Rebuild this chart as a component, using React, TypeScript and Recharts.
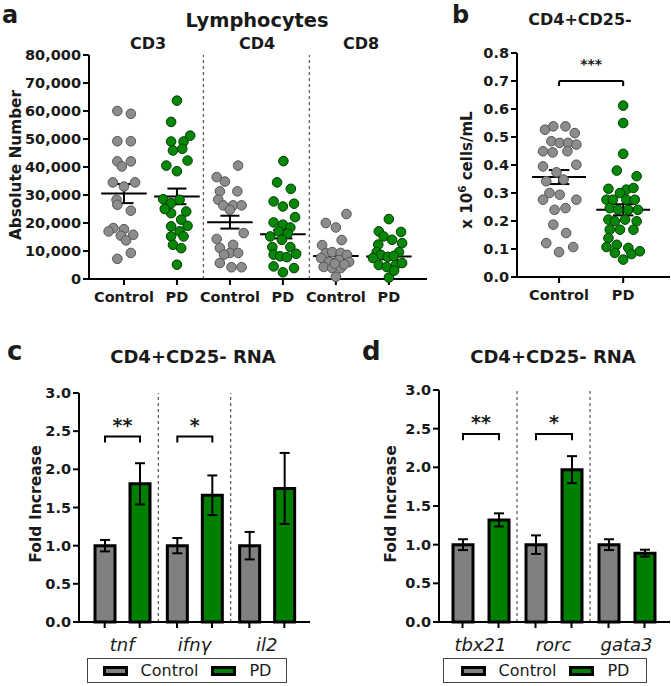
import React from 'react';
import {
  ScatterChart, Scatter, XAxis, YAxis, ReferenceLine,
  BarChart, Bar, ErrorBar, LabelList,
} from 'recharts';

const FONT = '"DejaVu Sans", "Liberation Sans", Arial, sans-serif';
const INK = '#1a1a1a';
const GRAY_PT = '#8c8c8c';
const GRAY_PT_EDGE = '#555555';
const GREEN_PT = '#078707';
const GREEN_PT_EDGE = '#003c00';
const GRAY_BAR = '#808080';
const GREEN_BAR = '#008000';

// ---------------- Panel a : Lymphocytes ----------------
const aGroupNames = ['CD3', 'CD4', 'CD8'];
const aTickLabels = ['Control', 'PD', 'Control', 'PD', 'Control', 'PD'];
const aYTicks = [0, 10000, 20000, 30000, 40000, 50000, 60000, 70000, 80000];
// [horizontal jitter within column, value]
const cd3Control: [number, number][] = [
  [-0.125, 60000], [0.13, 59000], [-0.125, 49200], [0.13, 49200], [-0.125, 42000], [0.13, 42000],
  [-0.04, 40200], [-0.21, 34500], [0.21, 34500], [0, 33000], [-0.14, 28300], [-0.125, 26500],
  [0.13, 24400], [-0.2, 18200], [0, 17800], [-0.29, 17000], [-0.06, 15500], [0.175, 15800],
  [0.04, 13800], [0.13, 9300], [-0.125, 7200],
];
const cd3PD: [number, number][] = [
  [0, 63700], [-0.11, 56100], [-0.11, 49100], [0.125, 49100], [0.25, 51200], [0.1, 46500],
  [-0.075, 45900], [0.2, 42300], [-0.2, 40500], [0, 38500], [-0.26, 28500], [-0.11, 27100],
  [0.05, 28300], [-0.11, 23500], [0.175, 24100], [-0.23, 25000], [0.08, 21200], [-0.11, 18800],
  [0.2, 19000], [0.05, 17000], [-0.11, 15200], [0.125, 15200], [-0.075, 12200], [0.08, 11000],
  [0, 5100],
];
const cd4Control: [number, number][] = [
  [0.155, 40500], [-0.25, 36400], [-0.095, 34800], [-0.19, 31300], [0.14, 31300], [-0.22, 28300],
  [-0.125, 26300], [0.06, 26300], [0.22, 26300], [0, 24700], [0.26, 16400], [-0.25, 14300],
  [-0.19, 11100], [0.06, 12200], [0, 9300], [0.155, 9300], [-0.11, 8700], [-0.19, 5700],
  [0.03, 4200], [0.22, 4200],
];
const cd4PD: [number, number][] = [
  [0.01, 42100], [-0.11, 34500], [0.15, 32200], [-0.175, 27700], [0.21, 26900], [0, 25900],
  [0.23, 22100], [-0.175, 20200], [0, 19400], [0.14, 18400], [-0.08, 17000], [-0.24, 15200],
  [0.09, 16200], [-0.02, 14000], [-0.2, 11400], [0.14, 11400], [0.25, 9000], [-0.175, 8700],
  [-0.05, 8100], [0.075, 7800], [-0.175, 4500], [0.21, 3900], [0, 2400],
];
const cd8Control: [number, number][] = [
  [0.2, 23200], [-0.19, 20000], [0, 18400], [0.11, 13900], [-0.26, 12100], [-0.19, 9300],
  [-0.07, 9600], [0.09, 9300], [0.21, 8600], [-0.28, 7500], [-0.13, 6100], [0.06, 6800],
  [0.25, 6100], [-0.23, 4300], [-0.07, 3900], [0.09, 3900], [0, 800], [0.16, 5200], [-0.02, 5500],
];
const cd8PD: [number, number][] = [
  [0, 21400], [-0.19, 17000], [0.23, 16800], [-0.1, 15200], [0.06, 14000], [-0.2, 12300],
  [0.25, 12800], [-0.23, 9600], [0.19, 9600], [-0.15, 8600], [-0.02, 7900], [0.09, 8200],
  [-0.3, 7500], [-0.19, 5000], [-0.04, 4300], [0.13, 5000], [0.25, 5700], [0, 500], [0.1, 3000],
];
const aControlGroups = [cd3Control, cd4Control, cd8Control];
const aPDGroups = [cd3PD, cd4PD, cd8PD];
const aMeans = [30500, 29500, 20300, 16000, 8200, 8000];
const aSems = [3400, 2800, 2300, 1500, 1000, 1000];

// ---------------- Panel b : CD4+CD25- ----------------
const bTickLabels = ['Control', 'PD'];
const bYTicks = [0, 0.1, 0.2, 0.3, 0.4, 0.5, 0.6, 0.7, 0.8];
const bControl: [number, number][] = [
  [-0.09, 0.538], [0.1, 0.538], [-0.22, 0.526], [0.245, 0.514], [-0.12, 0.485], [0.01, 0.479],
  [0.14, 0.479], [0.27, 0.473], [-0.25, 0.449], [-0.1, 0.445], [0.13, 0.449], [-0.25, 0.395],
  [0.27, 0.401], [-0.04, 0.374], [0.07, 0.348], [-0.2, 0.342], [-0.15, 0.3], [-0.25, 0.276],
  [0.01, 0.294], [0.27, 0.276], [-0.07, 0.24], [0.1, 0.246], [-0.09, 0.187], [0.11, 0.157],
  [-0.2, 0.121], [0, 0.089], [0.22, 0.107],
];
const bPD: [number, number][] = [
  [0, 0.612], [0, 0.55], [0, 0.44], [-0.1, 0.38], [0.21, 0.36], [-0.23, 0.315], [0.05, 0.312],
  [0.16, 0.318], [-0.05, 0.3], [-0.26, 0.276], [-0.16, 0.276], [0.05, 0.276], [0.18, 0.276],
  [-0.21, 0.246], [-0.08, 0.24], [0.08, 0.24], [0.23, 0.24], [-0.23, 0.205], [-0.13, 0.199],
  [0.03, 0.205], [0.21, 0.199], [-0.05, 0.169], [0.16, 0.169], [-0.21, 0.169], [-0.23, 0.139],
  [-0.1, 0.115], [0.08, 0.104], [-0.26, 0.107], [-0.13, 0.086], [0.13, 0.082], [0.26, 0.092],
  [0, 0.062],
];
const bMeans = [0.357, 0.24];
const bSems = [0.025, 0.02];
const bSig = '***';
const bBracketLevel = 0.7;
const bBracketLeg = 0.682;

// ---------------- Panels c, d : CD4+CD25- RNA ----------------
const barYTicks = [0, 0.5, 1.0, 1.5, 2.0, 2.5, 3.0];
const cGenes = ['tnf', 'ifnγ', 'il2'];
const cControl = [1.0, 1.0, 1.0];
const cPD = [1.81, 1.66, 1.75];
const cControlSem = [0.075, 0.1, 0.18];
const cPDSem = [0.27, 0.26, 0.465];
const cSig = ['**', '*', ''];

const dGenes = ['tbx21', 'rorc', 'gata3'];
const dControl = [1.0, 1.0, 1.0];
const dPD = [1.32, 1.97, 0.89];
const dControlSem = [0.07, 0.12, 0.07];
const dPDSem = [0.085, 0.175, 0.045];
const dSig = ['**', '*', ''];

const bracketLevel = 2.43;
const bracketLeg = 2.35;
const starLevel = 2.56;

// ---------------- helpers ----------------
const tickStyle = { fill: INK, fontSize: 14.5, fontWeight: 700, fontFamily: FONT };
const axisLineStyle = { stroke: '#000', strokeWidth: 2 };

const toPoints = (groups: [number, number][][], offset: number) =>
  groups.flatMap((g, gi) => g.map(([dx, v]) => ({ x: gi * 2 + offset + dx, y: v })));

const dot = (fill: string, edge: string) => (p: any) =>
  <circle cx={p.cx} cy={p.cy} r={4.8} fill={fill} stroke={edge} strokeWidth={1} />;

function meanSem(means: number[], sems: number[], halfMean: number, halfCap: number, key: string) {
  const line = { stroke: '#000', strokeWidth: 2, ifOverflow: 'visible' as const };
  return means.flatMap((m, i) => [
    <ReferenceLine key={`${key}m${i}`} segment={[{ x: i - halfMean, y: m }, { x: i + halfMean, y: m }]} {...line} />,
    <ReferenceLine key={`${key}v${i}`} segment={[{ x: i, y: m - sems[i] }, { x: i, y: m + sems[i] }]} {...line} />,
    <ReferenceLine key={`${key}t${i}`} segment={[{ x: i - halfCap, y: m + sems[i] }, { x: i + halfCap, y: m + sems[i] }]} {...line} />,
    <ReferenceLine key={`${key}b${i}`} segment={[{ x: i - halfCap, y: m - sems[i] }, { x: i + halfCap, y: m - sems[i] }]} {...line} />,
  ]);
}

const fmtComma = (v: number) => v.toLocaleString('en-US');
const fmt1 = (v: number) => v.toFixed(1);

function PanelA() {
  const ctrl = toPoints(aControlGroups, 0);
  const pd = toPoints(aPDGroups, 1);
  return (
    <ScatterChart width={440} height={310} margin={{ top: 55, right: 13, bottom: 1, left: 0 }}>
      <XAxis type="number" dataKey="x" domain={[-0.66, 5.72]} ticks={[0, 1, 2, 3, 4, 5]} interval={0}
        tickFormatter={(v: number) => aTickLabels[v]} allowDataOverflow height={30}
        tick={tickStyle} axisLine={axisLineStyle} tickLine={axisLineStyle} tickSize={6} tickMargin={7} />
      <YAxis type="number" dataKey="y" domain={[0, 80000]} ticks={aYTicks} interval={0}
        tickFormatter={fmtComma} width={89} tick={tickStyle} axisLine={axisLineStyle}
        tickLine={axisLineStyle} tickSize={6} tickMargin={2} />
      <ReferenceLine x={1.5} stroke="#555" strokeDasharray="3 3" strokeWidth={1.2} />
      <ReferenceLine x={3.5} stroke="#555" strokeDasharray="3 3" strokeWidth={1.2} />
      <Scatter data={ctrl} shape={dot(GRAY_PT, GRAY_PT_EDGE)} isAnimationActive={false} />
      <Scatter data={pd} shape={dot(GREEN_PT, GREEN_PT_EDGE)} isAnimationActive={false} />
      {meanSem(aMeans, aSems, 0.43, 0.18, 'a')}
    </ScatterChart>
  );
}

function PanelB() {
  const ctrl = bControl.map(([dx, v]) => ({ x: dx, y: v }));
  const pd = bPD.map(([dx, v]) => ({ x: 1 + dx, y: v }));
  const line = { stroke: '#000', strokeWidth: 2, ifOverflow: 'visible' as const };
  return (
    <ScatterChart width={231} height={310} margin={{ top: 53, right: 1, bottom: 3, left: 0 }}>
      <XAxis type="number" dataKey="x" domain={[-0.656, 1.73]} ticks={[0, 1]} interval={0}
        tickFormatter={(v: number) => bTickLabels[v]} allowDataOverflow height={30}
        tick={tickStyle} axisLine={axisLineStyle} tickLine={axisLineStyle} tickSize={6} tickMargin={7} />
      <YAxis type="number" dataKey="y" domain={[0, 0.8]} ticks={bYTicks} interval={0}
        tickFormatter={fmt1} width={77} tick={tickStyle} axisLine={axisLineStyle}
        tickLine={axisLineStyle} tickSize={6} tickMargin={2} />
      <Scatter data={ctrl} shape={dot(GRAY_PT, GRAY_PT_EDGE)} isAnimationActive={false} />
      <Scatter data={pd} shape={dot(GREEN_PT, GREEN_PT_EDGE)} isAnimationActive={false} />
      {meanSem(bMeans, bSems, 0.42, 0.16, 'b')}
      <ReferenceLine segment={[{ x: 0, y: bBracketLevel }, { x: 1, y: bBracketLevel }]} {...line}
        label={{ value: bSig, position: 'top', offset: 12, fill: INK, fontSize: 14, fontWeight: 700, fontFamily: FONT }} />
      <ReferenceLine segment={[{ x: 0, y: bBracketLeg }, { x: 0, y: bBracketLevel }]} {...line} />
      <ReferenceLine segment={[{ x: 1, y: bBracketLeg }, { x: 1, y: bBracketLevel }]} {...line} />
    </ScatterChart>
  );
}

function BarPanel(props: {
  genes: string[]; control: number[]; pd: number[]; controlSem: number[]; pdSem: number[];
  sig: string[]; width: number; yAxisWidth: number; top: number; right: number;
  padL: number; padR: number; barSize: number; barGap: number;
}) {
  const { genes, control, pd, controlSem, pdSem, sig, width, yAxisWidth, top, right, padL, padR, barSize, barGap } = props;
  const data = genes.map((g, i) => ({
    gene: g, control: control[i], pd: pd[i],
    controlErr: controlSem[i], pdErr: pdSem[i], sig: sig[i],
  }));
  const half = (barSize + barGap) / 2;
  const renderTick = (p: any) => {
    const { x, y, payload } = p;
    return (
      <g>
        <line x1={x - half} x2={x - half} y1={y} y2={y + 6} stroke="#000" strokeWidth={2} />
        <line x1={x + half} x2={x + half} y1={y} y2={y + 6} stroke="#000" strokeWidth={2} />
        <text x={x} y={y + 29} textAnchor="middle" fontFamily={FONT} fontStyle="italic"
          fontSize={18} fill={INK}>{payload.value}</text>
      </g>
    );
  };
  const renderBracket = (p: any) => {
    const vb = p.viewBox && p.viewBox.height !== undefined ? p.viewBox : p;
    const { x, y, width: w, height: h } = vb;
    const idx = p.index;
    const s = data[idx] ? data[idx].sig : '';
    if (!s) return null;
    const val = data[idx].control;
    const bottom = y + h;
    const k = h / val;
    const x1 = x + w / 2;
    const x2 = x1 + barSize + barGap;
    const yb = bottom - bracketLevel * k;
    const yl = bottom - bracketLeg * k;
    return (
      <g>
        <path d={`M${x1},${yl}V${yb}H${x2}V${yl}`} stroke="#000" strokeWidth={2} fill="none" />
        <text x={(x1 + x2) / 2} y={bottom - starLevel * k + 5} textAnchor="middle" fontFamily={FONT}
          fontWeight={700} fontSize={19} fill={INK}>{s}</text>
      </g>
    );
  };
  return (
    <BarChart width={width} height={376} data={data} barSize={barSize} barGap={barGap}
      margin={{ top, right, bottom: 24, left: 0 }}>
      <XAxis dataKey="gene" type="category" padding={{ left: padL, right: padR }} height={40}
        interval={0} axisLine={axisLineStyle} tickLine={false} tickSize={0} tickMargin={0} tick={renderTick} />
      <YAxis type="number" domain={[0, 3]} ticks={barYTicks} interval={0} tickFormatter={fmt1}
        width={yAxisWidth} tick={tickStyle} axisLine={axisLineStyle} tickLine={axisLineStyle}
        tickSize={6} tickMargin={2} />
      <ReferenceLine x={genes[0]} position="end" stroke="#555" strokeDasharray="3 3" strokeWidth={1.2} />
      <ReferenceLine x={genes[1]} position="end" stroke="#555" strokeDasharray="3 3" strokeWidth={1.2} />
      <Bar dataKey="control" fill={GRAY_BAR} stroke="#000" strokeWidth={3} isAnimationActive={false}>
        <ErrorBar dataKey="controlErr" width={5} stroke="#000" strokeWidth={2} direction="y" />
        <LabelList dataKey="control" content={renderBracket} />
      </Bar>
      <Bar dataKey="pd" fill={GREEN_BAR} stroke="#000" strokeWidth={3} isAnimationActive={false}>
        <ErrorBar dataKey="pdErr" width={5} stroke="#000" strokeWidth={2} direction="y" />
      </Bar>
    </BarChart>
  );
}

function LegendBox(props: { left: number; width: number }) {
  const sw = (c: string) => (
    <div style={{ width: 25, height: 10, boxSizing: 'border-box', border: '3px solid #000', background: c }} />
  );
  return (
    <div style={{
      position: 'absolute', left: props.left, top: 658, width: props.width, height: 25,
      boxSizing: 'border-box', border: '1px solid #444', display: 'flex', alignItems: 'center',
      justifyContent: 'center', gap: 13, fontFamily: FONT, fontSize: 16, color: INK,
    }}>
      {sw(GRAY_BAR)}<span>Control</span>{sw(GREEN_BAR)}<span>PD</span>
    </div>
  );
}

export default function App() {
  const bold = { fontFamily: FONT, fontWeight: 700, fill: INK } as const;
  return (
    <div style={{ position: 'absolute', left: 0, top: 0, width: 671, height: 686, background: '#fff', overflow: 'hidden' }}>
      <div style={{ position: 'absolute', left: 0, top: 0 }}><PanelA /></div>
      <div style={{ position: 'absolute', left: 440, top: 0 }}><PanelB /></div>
      <div style={{ position: 'absolute', left: 0, top: 310 }}>
        <BarPanel genes={cGenes} control={cControl} pd={cPD} controlSem={cControlSem} pdSem={cPDSem}
          sig={cSig} width={320} yAxisWidth={79} top={83} right={10} padL={7} padR={7} barSize={20} barGap={15} />
      </div>
      <div style={{ position: 'absolute', left: 335, top: 310 }}>
        <BarPanel genes={dGenes} control={dControl} pd={dPD} controlSem={dControlSem} pdSem={dPDSem}
          sig={dSig} width={336} yAxisWidth={104} top={80} right={1} padL={5} padR={7} barSize={20} barGap={16} />
      </div>
      <LegendBox left={87} width={200} />
      <LegendBox left={443} width={204} />
      <svg width={671} height={686} style={{ position: 'absolute', left: 0, top: 0, pointerEvents: 'none' }}>
        <text x={2} y={23} fontSize={24} {...bold}>a</text>
        <text x={452} y={23} fontSize={24} {...bold}>b</text>
        <text x={7} y={360} fontSize={26} {...bold}>c</text>
        <text x={362} y={360} fontSize={26} {...bold}>d</text>
        <text x={257} y={27} fontSize={19.4} textAnchor="middle" {...bold}>Lymphocytes</text>
        {aGroupNames.map((g, i) => (
          <text key={g} x={[148, 257, 361][i]} y={49} fontSize={16} textAnchor="middle" {...bold}>{g}</text>
        ))}
        <text x={580} y={25} fontSize={16} textAnchor="middle" {...bold}>CD4+CD25-</text>
        <text x={193} y={363} fontSize={18} textAnchor="middle" {...bold}>CD4+CD25- RNA</text>
        <text x={553} y={363} fontSize={18} textAnchor="middle" {...bold}>CD4+CD25- RNA</text>
        <text x={21} y={165} fontSize={15.3} textAnchor="middle" transform="rotate(-90 21 165)" {...bold}>Absolute Number</text>
        <text x={472} y={170} fontSize={15} textAnchor="middle" transform="rotate(-90 472 170)" {...bold}>
          <tspan>x 10</tspan><tspan dy={-6} fontSize={10.5}>6</tspan><tspan dy={6}> cells/mL</tspan>
        </text>
        <text x={41} y={504} fontSize={15.6} textAnchor="middle" transform="rotate(-90 41 504)" {...bold}>Fold Increase</text>
        <text x={396} y={504} fontSize={15.6} textAnchor="middle" transform="rotate(-90 396 504)" {...bold}>Fold Increase</text>
      </svg>
    </div>
  );
}
